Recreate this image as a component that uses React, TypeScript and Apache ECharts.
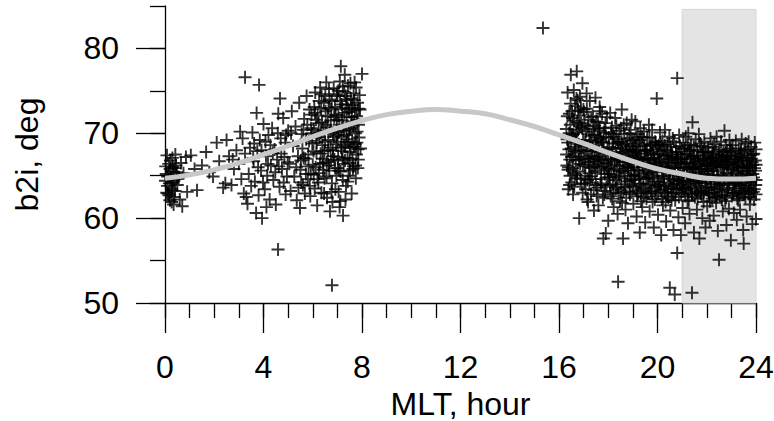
import React, { useEffect, useRef } from "react";
import * as echarts from "echarts";

// Scatter points: [MLT hour, b2i deg]
const morningPoints: number[][] = [
  [0.05,65.2],[0.1,63.8],[0.15,66.4],[0.2,62.1],[0.25,64.7],[0.3,67.1],[0.35,61.6],[0.4,65.9],[0.08,67.4],[0.12,62.9],
  [0.18,64.1],[0.22,66.8],[0.28,63.3],[0.33,65.5],[0.38,62.5],[0.45,66.2],[0.5,63.9],[0.02,64.4],[0.27,61.9],[0.42,67.5],
  [0.55,64.8],[0.6,62.2],[0.65,66.5],[0.7,61.4],[0.75,65.3],[0.85,67.2],[0.9,63.1],[0.14,65.0],[0.32,64.2],[0.48,65.4],
  [1.05,67.4],[1.3,63.3],[1.5,66.2],[1.67,67.8],[1.8,65.4],[2.1,68.9],[2.2,66.7],[2.36,63.6],[2.45,64.1],[2.5,69.2],
  [1.2,65.8],[1.95,64.9],
  [2.6,67.3],[2.7,63.9],[2.8,65.8],[2.9,68.0],[3.0,66.4],[3.1,64.6],[3.15,69.4],[3.2,62.9],[3.25,67.6],[3.3,62.5],
  [3.35,61.7],[2.75,66.9],[3.05,70.2],
  [3.4,65.2],[3.45,68.3],[3.5,63.8],[3.55,70.1],[3.6,66.7],[3.65,64.3],[3.7,60.6],[3.72,72.4],[3.75,67.9],[3.8,62.7],
  [3.85,69.2],[3.9,65.6],[3.94,60.0],[4.0,71.1],[4.05,63.4],[4.1,67.3],[4.15,65.0],[4.2,69.8],[4.25,62.2],[4.3,66.2],
  [4.35,70.6],[4.4,64.5],[4.45,68.1],[4.5,61.6],[4.55,66.9],[4.6,72.3],[4.65,63.7],[4.7,69.4],[4.75,65.8],[4.8,71.8],
  [4.85,67.2],[4.9,62.8],[4.95,64.9],[5.0,70.3],[3.58,67.1],[3.98,64.2],[4.28,68.6],[4.62,66.1],[4.88,68.9],[4.12,61.3],
  [5.05,66.4],[5.1,63.2],[5.15,72.6],[5.2,68.5],[5.25,64.9],[5.3,70.8],[5.35,62.1],[5.4,67.3],[5.45,73.6],[5.48,61.2],
  [5.5,65.7],[5.55,69.9],[5.6,63.9],[5.65,71.7],[5.7,67.0],[5.75,74.4],[5.8,64.6],[5.85,69.1],[5.9,62.6],[5.95,72.2],
  [6.0,66.3],[5.12,70.0],[5.33,66.0],[5.58,68.2],[5.78,71.0],[5.92,65.2],[5.42,63.6],[5.68,62.9],[5.98,68.8],
  [6.05,70.4],[6.08,63.5],[6.1,74.8],[6.15,67.7],[6.18,61.5],[6.2,72.1],[6.25,65.3],[6.28,69.5],[6.3,75.4],[6.35,63.0],
  [6.38,71.3],[6.4,67.0],[6.45,73.6],[6.48,64.7],[6.5,69.0],[6.55,76.0],[6.58,62.4],[6.6,70.7],[6.65,66.2],[6.68,74.0],
  [6.7,60.8],[6.72,68.3],[6.75,72.8],[6.78,64.1],[6.8,61.9],[6.82,70.0],[6.85,75.3],[6.88,66.9],[6.9,73.1],[6.92,63.4],
  [6.95,68.7],[6.98,71.6],[6.12,66.0],[6.22,69.9],[6.32,67.6],[6.42,65.7],[6.52,72.6],[6.62,68.0],[6.74,66.8],[6.86,69.6],
  [6.96,65.0],[6.44,70.3],[6.64,73.0],[6.26,73.8],[6.56,64.9],
  [7.0,74.4],[7.03,67.2],[7.05,63.1],[7.08,71.0],[7.1,76.1],[7.13,65.5],[7.14,77.9],[7.16,69.6],[7.2,72.9],[7.23,60.3],
  [7.25,66.4],[7.28,74.9],[7.3,76.9],[7.32,68.4],[7.35,63.8],[7.38,71.9],[7.4,69.3],[7.43,75.6],[7.45,65.0],[7.48,72.5],
  [7.5,67.8],[7.52,70.6],[7.55,74.1],[7.58,62.9],[7.6,69.0],[7.62,73.3],[7.65,66.1],[7.68,71.4],[7.7,76.0],[7.72,68.7],
  [7.75,64.7],[7.78,72.0],[7.8,70.2],[7.85,66.9],[7.9,74.5],[8.0,77.0],[7.06,70.1],[7.18,67.9],[7.36,73.4],[7.46,68.9],
  [7.56,71.2],[7.66,74.7],[7.74,66.2],[7.82,73.6],[7.12,62.0],[7.42,64.3],[7.88,69.5],
];

const morningCore: number[][] = [
  [0.03,66.1],[0.07,63.0],[0.11,64.9],[0.16,62.7],[0.21,65.8],[0.26,63.5],[0.31,66.0],[0.36,64.4],[0.41,63.2],[0.46,64.6],
  [3.62,68.8],[3.78,66.0],[3.92,68.0],[4.08,69.0],[4.18,66.4],[4.38,67.7],[4.48,65.4],[4.58,70.0],[4.72,67.6],[4.82,64.2],
  [4.92,69.8],[4.98,66.6],
  [5.52,66.8],[5.62,70.4],[5.72,65.2],[5.82,67.5],[5.87,72.8],[5.97,70.0],[6.03,67.9],[6.13,71.6],[6.23,64.2],[6.33,70.1],
  [6.43,66.5],[6.53,71.0],[6.63,69.2],[6.73,71.5],[6.83,67.3],[6.93,72.2],[6.99,69.8],[6.06,73.1],[6.36,74.6],[6.66,75.2],
  [6.76,63.1],[6.16,68.9],[6.46,62.9],
  [7.01,69.0],[7.04,72.1],[7.07,65.6],[7.11,73.8],[7.15,68.3],[7.19,71.5],[7.22,64.5],[7.26,70.3],[7.29,72.4],[7.31,66.8],
  [7.34,74.4],[7.37,69.8],[7.41,67.1],[7.44,72.9],[7.47,70.4],[7.51,65.6],[7.54,68.3],[7.57,73.0],[7.61,67.0],[7.64,70.9],
  [7.67,68.4],[7.71,72.7],[7.73,70.0],[7.77,67.5],[7.81,71.6],[7.84,68.1],[7.87,72.9],[7.76,75.4],[7.53,75.9],[7.33,62.2],
  [7.09,61.3],
  [5.53,64.2],[5.63,67.1],[5.73,69.3],[5.83,66.1],[5.88,63.8],[5.93,70.6],[6.04,65.1],[6.09,72.4],[6.14,69.6],[6.19,64.6],
  [6.24,71.2],[6.29,66.4],[6.34,72.9],[6.39,68.6],[6.47,67.9],[6.51,74.4],[6.57,66.6],[6.61,72.0],[6.67,65.6],[6.71,70.2],
  [6.77,73.8],[6.81,68.0],[6.87,71.9],[6.91,65.9],[6.97,74.6],
  [7.02,65.9],[7.04,75.0],[7.17,73.4],[7.21,67.0],[7.24,70.9],[7.27,68.6],[7.39,74.0],[7.49,66.5],[7.59,71.9],[7.63,65.8],
  [7.69,73.9],[7.79,68.9],[7.83,65.9],[7.86,71.0],[7.92,72.8],[7.94,68.2],[7.22,75.5],
];

const eveningPoints: number[][] = [
  [16.3,70.5],[16.32,66.2],[16.35,74.8],[16.38,63.4],[16.4,68.1],[16.42,72.3],[16.45,65.0],[16.48,76.9],[16.5,69.6],[16.52,64.2],
  [16.55,71.8],[16.58,67.3],[16.6,75.1],[16.62,63.7],[16.65,73.2],[16.68,66.8],[16.7,70.1],[16.72,77.3],[16.75,65.5],[16.78,72.7],
  [16.8,68.7],[16.82,60.0],[16.85,74.3],[16.88,64.6],[16.9,71.2],[16.92,67.0],[16.95,75.9],[16.98,69.2],[16.36,68.9],[16.46,71.0],
  [16.56,65.9],[16.66,69.0],[16.76,73.9],[16.86,66.4],[16.96,63.0],[16.44,66.9],[16.64,67.9],[16.84,70.8],
  [17.02,72.5],[17.05,66.1],[17.08,63.4],[17.1,70.2],[17.12,74.7],[17.15,68.0],[17.18,61.9],[17.2,71.6],[17.22,65.3],[17.25,73.8],
  [17.28,67.4],[17.3,62.8],[17.32,69.7],[17.35,64.6],[17.38,72.0],[17.4,66.7],[17.42,60.9],[17.45,70.9],[17.48,74.2],[17.5,63.9],
  [17.52,68.6],[17.55,65.6],[17.58,71.3],[17.6,61.5],[17.62,67.8],[17.65,73.1],[17.68,64.1],[17.7,69.4],[17.72,66.0],[17.75,72.3],
  [17.78,62.4],[17.8,57.6],[17.82,68.2],[17.85,70.6],[17.88,63.2],[17.9,58.2],[17.92,66.5],[17.95,71.9],[17.98,64.8],[17.06,69.0],
  [17.26,66.0],[17.46,67.0],[17.66,70.3],[17.86,65.2],[17.16,64.5],[17.56,69.5],
  [18.0,59.7],[18.02,69.5],[18.05,65.2],[18.08,72.4],[18.1,62.6],[18.12,67.6],[18.15,70.7],[18.18,64.0],[18.2,68.8],[18.22,61.3],
  [18.25,66.3],[18.28,71.8],[18.3,63.5],[18.32,69.3],[18.35,65.8],[18.38,60.5],[18.4,52.5],[18.42,67.1],[18.45,70.3],[18.48,62.0],
  [18.5,68.3],[18.52,64.7],[18.55,72.8],[18.58,66.6],[18.6,57.6],[18.62,63.1],[18.65,69.9],[18.68,65.3],[18.7,61.0],[18.72,67.9],
  [18.75,71.2],[18.78,64.3],[18.8,59.4],[18.82,66.0],[18.85,70.0],[18.88,62.8],[18.9,68.5],[18.92,65.0],[18.95,71.6],[18.98,63.8],
  [18.14,66.9],[18.34,67.5],[18.54,69.0],[18.74,66.2],[18.94,67.3],[18.44,64.9],[18.64,67.2],[18.84,68.1],
  [19.0,66.4],[19.02,61.7],[19.05,69.2],[19.08,64.5],[19.1,71.4],[19.12,67.7],[19.15,60.2],[19.18,65.7],[19.2,69.9],[19.22,62.9],
  [19.25,67.2],[19.28,58.3],[19.3,70.6],[19.32,64.0],[19.35,66.9],[19.38,61.3],[19.4,68.7],[19.42,63.6],[19.45,70.2],[19.48,65.3],
  [19.5,59.5],[19.52,67.9],[19.55,62.3],[19.58,69.5],[19.6,64.8],[19.62,66.3],[19.65,71.0],[19.68,60.8],[19.7,68.1],[19.72,63.2],
  [19.75,65.9],[19.78,70.4],[19.8,61.9],[19.82,67.5],[19.85,58.9],[19.88,64.3],[19.9,69.0],[19.92,66.1],[19.95,62.6],[19.97,74.1],
  [19.98,68.4],[19.06,66.0],[19.26,64.9],[19.46,67.0],[19.66,65.2],[19.86,66.8],[19.16,68.0],[19.56,65.5],[19.76,67.7],
  [20.0,65.4],[20.02,60.4],[20.05,68.6],[20.08,63.7],[20.1,70.1],[20.12,66.6],[20.15,58.0],[20.18,64.9],[20.2,69.1],[20.22,61.5],
  [20.25,67.3],[20.28,63.0],[20.3,70.4],[20.32,65.8],[20.35,59.6],[20.38,68.0],[20.4,62.6],[20.42,66.9],[20.45,64.2],[20.48,69.6],
  [20.5,51.8],[20.52,60.9],[20.55,67.8],[20.58,63.5],[20.6,65.5],[20.62,69.4],[20.65,58.6],[20.68,66.2],[20.7,51.0],[20.72,62.1],
  [20.75,68.4],[20.78,64.6],[20.8,55.9],[20.8,76.5],[20.82,67.0],[20.85,60.1],[20.88,69.8],[20.9,63.9],[20.92,65.9],[20.95,58.0],
  [20.98,68.2],[20.06,66.3],[20.26,65.0],[20.46,67.0],[20.66,64.0],[20.86,65.3],[20.16,67.5],[20.56,66.0],[20.76,66.8],[20.96,62.9],
  [21.0,65.0],[21.02,61.2],[21.05,68.9],[21.08,63.3],[21.1,66.5],[21.12,59.4],[21.15,69.6],[21.18,64.4],[21.2,67.6],[21.22,62.0],
  [21.25,70.0],[21.28,65.7],[21.3,60.5],[21.32,68.1],[21.35,63.6],[21.38,66.3],[21.4,51.2],[21.42,71.3],[21.45,64.8],[21.48,58.3],
  [21.5,67.3],[21.52,62.5],[21.55,69.3],[21.58,65.4],[21.6,61.0],[21.62,67.0],[21.65,63.8],[21.68,69.9],[21.7,57.6],[21.72,66.1],
  [21.75,62.9],[21.78,68.5],[21.8,64.2],[21.82,60.0],[21.85,66.8],[21.88,63.1],[21.9,69.0],[21.92,65.2],[21.95,58.9],[21.98,67.4],
  [21.06,66.0],[21.26,64.3],[21.46,66.0],[21.66,65.0],[21.86,67.8],[21.36,68.6],[21.76,65.8],
  [22.0,64.6],[22.02,61.4],[22.05,68.3],[22.08,63.0],[22.1,66.7],[22.12,59.7],[22.15,69.4],[22.18,64.0],[22.2,67.0],[22.22,62.3],
  [22.25,65.6],[22.28,60.3],[22.3,68.7],[22.32,63.7],[22.35,66.2],[22.38,61.8],[22.4,69.6],[22.42,64.9],[22.45,58.5],[22.48,67.5],
  [22.5,55.1],[22.52,62.7],[22.55,66.0],[22.58,69.0],[22.6,63.4],[22.62,65.1],[22.65,60.8],[22.68,67.8],[22.7,64.4],[22.72,70.3],
  [22.75,62.0],[22.78,66.6],[22.8,59.2],[22.82,68.0],[22.85,63.9],[22.88,65.8],[22.9,61.1],[22.92,69.2],[22.95,64.7],[22.98,57.4],
  [22.06,65.5],[22.26,67.6],[22.46,65.0],[22.66,66.9],[22.86,66.3],[22.16,66.2],[22.56,64.1],[22.76,67.2],
  [23.0,66.9],[23.02,62.6],[23.05,68.6],[23.08,64.3],[23.1,60.6],[23.12,67.3],[23.15,63.5],[23.18,69.1],[23.2,65.4],[23.22,59.8],
  [23.25,66.4],[23.28,62.1],[23.3,68.2],[23.32,64.0],[23.35,61.0],[23.38,67.7],[23.4,63.2],[23.42,69.3],[23.45,65.9],[23.48,58.6],
  [23.5,57.0],[23.52,66.7],[23.55,62.9],[23.58,68.8],[23.6,64.6],[23.62,60.2],[23.65,67.1],[23.68,63.6],[23.7,69.0],[23.72,65.1],
  [23.75,61.6],[23.78,66.0],[23.8,68.4],[23.82,63.0],[23.85,59.3],[23.88,67.5],[23.9,64.8],[23.92,62.2],[23.95,68.9],[23.98,65.6],
  [24.0,59.9],[24.0,66.3],[24.0,62.8],[23.06,66.0],[23.26,65.2],[23.46,66.1],[23.66,65.6],[23.86,66.3],[23.36,64.9],[23.76,64.4],
];

const eveningCore: number[][] = [
  [16.31,67.5],[16.34,72.0],[16.37,65.7],[16.41,70.0],[16.43,63.9],[16.47,73.5],[16.51,67.2],[16.54,69.8],[16.57,62.8],[16.61,71.5],
  [16.63,65.3],[16.67,68.4],[16.71,74.1],[16.73,64.7],[16.77,70.4],[16.81,66.9],[16.83,72.1],[16.87,68.0],[16.91,64.0],[16.94,70.6],
  [16.97,66.3],[16.99,72.8],
  [17.01,67.9],[17.04,71.0],[17.07,65.0],[17.11,68.6],[17.14,62.2],[17.17,70.8],[17.21,67.0],[17.24,64.2],[17.27,69.1],[17.31,71.9],
  [17.34,65.9],[17.37,68.3],[17.41,63.3],[17.44,69.8],[17.47,65.4],[17.51,71.4],[17.54,67.2],[17.57,63.6],[17.61,69.2],[17.64,66.4],
  [17.67,72.6],[17.71,64.6],[17.74,68.9],[17.77,66.8],[17.81,70.1],[17.84,62.8],[17.87,67.6],[17.91,69.6],[17.94,65.8],[17.97,68.1],
  [18.01,66.0],[18.04,68.4],[18.07,63.9],[18.11,70.0],[18.13,65.6],[18.17,68.2],[18.21,63.0],[18.24,69.6],[18.27,66.7],[18.31,64.5],
  [18.33,70.9],[18.37,67.0],[18.41,62.9],[18.43,68.8],[18.47,66.1],[18.51,70.6],[18.53,63.3],[18.57,67.7],[18.61,65.6],[18.63,71.0],
  [18.67,64.0],[18.71,68.8],[18.73,62.4],[18.77,69.4],[18.81,65.6],[18.83,67.0],[18.87,64.4],[18.91,70.4],[18.93,66.4],[18.97,69.1],
  [19.01,68.1],[19.03,63.7],[19.07,67.4],[19.11,65.1],[19.13,69.5],[19.17,62.6],[19.21,66.7],[19.23,68.9],[19.27,64.1],[19.31,67.6],
  [19.33,62.0],[19.37,69.6],[19.41,66.0],[19.43,64.7],[19.47,68.5],[19.51,63.0],[19.53,66.4],[19.57,68.0],[19.61,62.9],[19.63,67.0],
  [19.67,69.5],[19.71,64.0],[19.73,66.9],[19.77,63.1],[19.81,68.7],[19.83,65.0],[19.87,67.1],[19.91,63.5],[19.93,68.9],[19.96,65.8],
  [20.01,67.6],[20.03,62.9],[20.07,66.6],[20.11,64.0],[20.13,68.9],[20.17,62.3],[20.21,66.1],[20.23,68.1],[20.27,63.8],[20.31,67.4],
  [20.33,61.9],[20.37,65.7],[20.41,68.7],[20.43,63.1],[20.47,66.5],[20.51,64.6],[20.53,68.4],[20.57,62.1],[20.61,67.2],[20.63,64.4],
  [20.67,69.0],[20.71,65.9],[20.73,63.0],[20.77,67.8],[20.81,64.1],[20.83,66.4],[20.87,62.5],[20.91,68.5],[20.93,64.9],[20.97,66.6],
  [21.01,67.0],[21.03,63.5],[21.07,65.2],[21.11,68.2],[21.13,62.6],[21.17,66.5],[21.21,64.9],[21.23,68.6],[21.27,62.1],[21.31,66.9],
  [21.33,64.0],[21.37,67.3],[21.41,62.8],[21.43,65.8],[21.47,68.4],[21.51,63.4],[21.53,66.6],[21.57,64.1],[21.61,68.0],[21.63,62.3],
  [21.67,66.4],[21.71,64.6],[21.73,68.8],[21.77,63.2],[21.81,66.1],[21.83,67.8],[21.87,61.9],[21.91,65.6],[21.93,67.7],[21.97,63.6],
  [22.01,66.4],[22.03,63.3],[22.07,67.8],[22.11,64.6],[22.13,62.0],[22.17,67.1],[22.21,65.1],[22.23,68.4],[22.27,63.0],[22.31,66.5],
  [22.33,64.3],[22.37,67.9],[22.41,62.5],[22.43,66.0],[22.47,64.5],[22.51,68.1],[22.53,63.9],[22.57,66.7],[22.61,62.2],[22.63,67.4],
  [22.67,64.8],[22.71,66.3],[22.73,62.7],[22.77,68.6],[22.81,65.3],[22.83,63.3],[22.87,67.3],[22.91,64.1],[22.93,66.5],[22.97,68.2],
  [23.01,64.8],[23.03,67.9],[23.07,62.9],[23.11,66.2],[23.13,64.1],[23.17,67.0],[23.21,63.0],[23.23,66.9],[23.27,64.4],[23.31,67.5],
  [23.33,62.6],[23.37,65.6],[23.41,67.2],[23.43,63.8],[23.47,66.8],[23.51,64.2],[23.53,68.1],[23.57,62.4],[23.61,66.4],[23.63,64.9],
  [23.67,67.9],[23.71,63.3],[23.73,66.2],[23.77,62.5],[23.81,67.0],[23.83,64.6],[23.87,65.2],[23.91,67.6],[23.93,63.4],[23.97,66.8],
  [24.0,64.5],[24.0,68.1],
];

const eveningDense: number[][] = [
  [16.33,69.3],[16.39,66.0],[16.49,68.2],[16.53,72.6],[16.59,69.9],[16.69,65.1],[16.74,71.3],[16.79,67.7],[16.89,73.0],[16.93,68.6],
  [17.03,64.1],[17.09,67.2],[17.13,72.9],[17.19,66.6],[17.23,69.9],[17.29,64.9],[17.33,67.9],[17.39,70.5],[17.43,66.2],[17.49,68.9],
  [17.53,62.6],[17.59,66.9],[17.63,70.6],[17.69,67.3],[17.73,63.9],[17.79,69.0],[17.83,66.1],[17.89,71.2],[17.93,63.7],[17.99,67.0],
  [18.03,64.8],[18.09,66.9],[18.16,62.3],[18.19,69.9],[18.23,65.0],[18.29,67.8],[18.36,63.7],[18.39,69.0],[18.46,65.5],[18.49,67.6],
  [18.56,61.8],[18.59,68.6],[18.66,66.6],[18.69,63.6],[18.76,68.0],[18.79,65.9],[18.86,63.0],[18.89,66.8],[18.96,64.6],[18.99,67.9],
  [19.04,65.0],[19.09,68.4],[19.14,63.2],[19.19,67.0],[19.24,65.6],[19.29,69.2],[19.34,63.4],[19.39,66.4],[19.44,62.5],[19.49,68.0],
  [19.54,64.6],[19.59,67.1],[19.64,63.8],[19.69,66.3],[19.74,68.6],[19.79,64.7],[19.84,67.0],[19.89,62.2],[19.94,66.5],[19.99,63.9],
  [20.04,64.3],[20.09,67.9],[20.14,63.3],[20.19,66.0],[20.24,64.7],[20.29,68.6],[20.34,63.4],[20.39,66.6],[20.44,62.4],[20.49,65.5],
  [20.54,63.7],[20.59,67.5],[20.64,62.9],[20.69,65.1],[20.74,67.2],[20.79,63.4],[20.84,67.5],[20.89,64.4],[20.94,67.0],[20.99,63.5],
  [21.04,64.2],[21.09,67.5],[21.14,63.7],[21.19,66.0],[21.24,63.1],[21.29,67.9],[21.34,65.3],[21.39,62.9],[21.44,67.1],[21.49,64.5],
  [21.54,66.0],[21.59,63.0],[21.64,67.4],[21.69,64.3],[21.74,66.8],[21.79,62.7],[21.84,65.0],[21.89,67.0],[21.94,64.1],[21.99,66.2],
  [22.04,65.8],[22.09,62.8],[22.14,66.5],[22.19,63.6],[22.24,67.3],[22.29,64.9],[22.34,62.5],[22.39,66.3],[22.44,63.4],[22.49,66.8],
  [22.54,64.0],[22.59,67.1],[22.64,63.1],[22.69,66.0],[22.74,64.7],[22.79,62.4],[22.84,66.9],[22.89,63.6],[22.94,67.8],[22.99,64.9],
  [23.04,65.7],[23.09,63.0],[23.14,66.6],[23.19,64.4],[23.24,62.3],[23.29,66.0],[23.34,63.9],[23.39,68.0],[23.44,64.6],[23.49,62.8],
  [23.54,65.4],[23.59,63.5],[23.64,66.0],[23.69,62.9],[23.74,67.4],[23.79,64.2],[23.84,66.6],[23.89,63.1],[23.94,65.9],[23.99,63.9],
];

const outlierPoints: number[][] = [
  [3.25,76.6],[3.82,75.7],[4.67,74.1],[4.59,56.3],[6.78,52.1],[15.35,82.4],
];

// Fitted curve, one value per hour
const curveHours: number[] = [0,1,2,3,4,5,6,7,8,9,10,11,12,13,14,15,16,17,18,19,20,21,22,23,24];
const curveValues: number[] = [64.7,65.1,65.7,66.5,67.5,68.5,69.6,70.6,71.5,72.2,72.6,72.8,72.6,72.3,71.6,70.8,69.8,68.8,67.7,66.7,65.8,65.2,64.7,64.6,64.7];

// Shaded interval
const shadeRange: number[] = [21, 24];
const shadeValueRange: number[] = [50, 84.6];

const xMajorTicks = [0, 4, 8, 12, 16, 20, 24];
const yMajorTicks = [50, 60, 70, 80];

const FONT = "'Liberation Sans', Arial, Helvetica, sans-serif";

export default function App() {
  const ref = useRef<HTMLDivElement>(null);
  useEffect(() => {
    if (!ref.current) return;
    const chart = echarts.init(ref.current, null, { renderer: "svg" });
    const axisLine = { show: true, lineStyle: { color: "#000", width: 1.3 } };
    const tickStyle = { color: "#000", width: 1.3 };
    const textStyle = { fontSize: 32, fontFamily: FONT, color: "#000", lineHeight: 32 };
    const option: any = {
      animation: false,
      backgroundColor: "#fff",
      grid: { left: 165, right: 18, top: 6, bottom: 118, containLabel: false, outerBoundsMode: "none" },
      xAxis: [
        {
          type: "value", min: 0, max: 24, interval: 1, position: "bottom",
          axisLine, axisTick: { show: true, length: 15, lineStyle: tickStyle },
          axisLabel: { show: false }, splitLine: { show: false },
        },
        {
          type: "value", min: 0, max: 24, interval: 4, position: "bottom",
          axisLine: { show: false },
          axisTick: { show: true, length: 30, lineStyle: tickStyle, customValues: xMajorTicks },
          axisLabel: { show: true, ...textStyle, margin: 48, customValues: xMajorTicks },
          splitLine: { show: false },
          name: "MLT, hour", nameLocation: "middle", nameGap: 85,
          nameTextStyle: textStyle,
        },
      ],
      yAxis: [
        {
          type: "value", min: 50, max: 85, interval: 5, position: "left",
          axisLine, axisTick: { show: true, length: 15, lineStyle: tickStyle },
          axisLabel: { show: false }, splitLine: { show: false },
        },
        {
          type: "value", min: 50, max: 85, interval: 10, position: "left",
          axisLine: { show: false },
          axisTick: { show: true, length: 29, lineStyle: tickStyle, customValues: yMajorTicks },
          axisLabel: { show: true, ...textStyle, margin: 46, customValues: yMajorTicks },
          splitLine: { show: false },
          name: "b2i, deg", nameLocation: "middle", nameGap: 122, nameRotate: 90,
          nameTextStyle: textStyle,
        },
      ],
      series: [
        {
          type: "line", xAxisIndex: 0, yAxisIndex: 0, data: [], z: 1, silent: true,
          markArea: {
            silent: true,
            itemStyle: { color: "#e4e4e4", borderColor: "#d6d6d6", borderWidth: 1 },
            data: [[
              { xAxis: shadeRange[0], yAxis: shadeValueRange[0] },
              { xAxis: shadeRange[1], yAxis: shadeValueRange[1] },
            ]],
          },
        },
        {
          type: "scatter", xAxisIndex: 0, yAxisIndex: 0, z: 2, clip: false,
          symbol: "path://M0,6H12M6,0V12", symbolSize: 13,
          itemStyle: { color: "transparent", borderColor: "#000", borderWidth: 1.9 },
          data: [...morningPoints, ...morningCore, ...eveningPoints, ...eveningCore, ...eveningDense, ...outlierPoints],
        },
        {
          type: "line", xAxisIndex: 0, yAxisIndex: 0, z: 3, smooth: true, showSymbol: false,
          lineStyle: { color: "#c8c8c8", width: 5 },
          data: curveHours.map((h, i) => [h, curveValues[i]]),
        },
      ],
    };
    chart.setOption(option);
    return () => chart.dispose();
  }, []);
  return (
    <div
      ref={ref}
      style={{ position: "fixed", left: 0, top: 0, width: 774, height: 421, background: "#fff" }}
    />
  );
}
